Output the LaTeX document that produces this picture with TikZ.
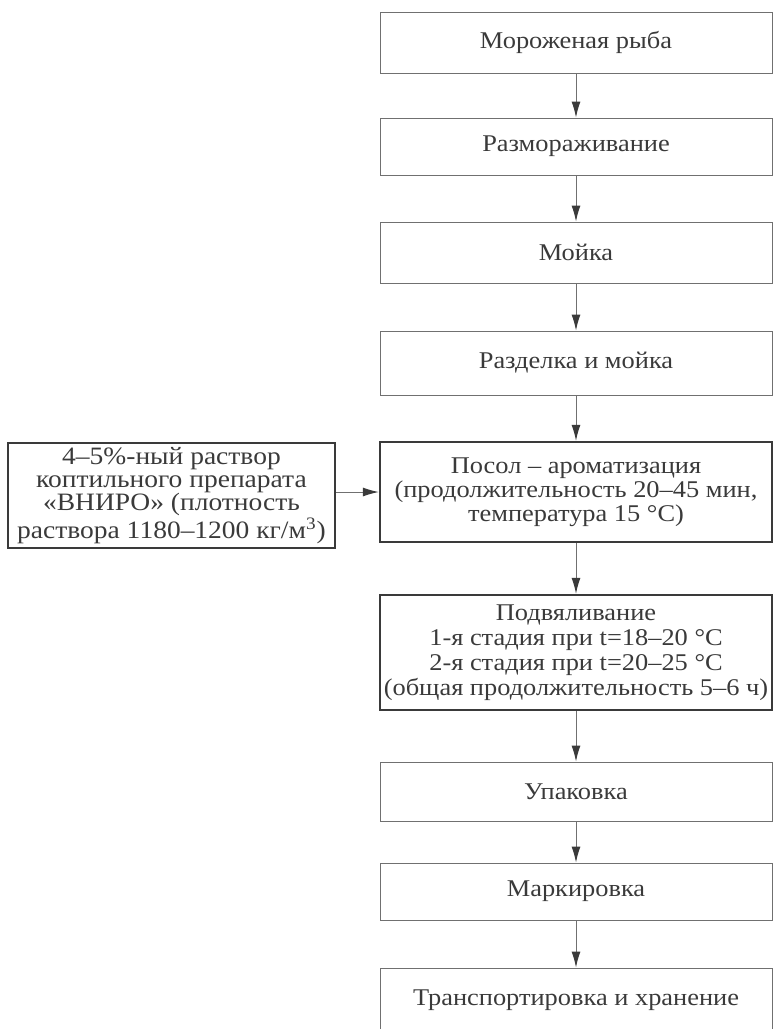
\documentclass[tikz,border=0pt]{standalone}
\usepackage{fontspec}
\setmainfont{Liberation Serif}
\newfontfamily\boxfont{Liberation Serif}[FakeStretch=1.1]
\usetikzlibrary{arrows.meta}

\definecolor{inkgray}{HTML}{3A3A3A}
\definecolor{linegray}{HTML}{707070}

\begin{document}
\begin{tikzpicture}[x=0.5pt,y=-0.5pt,
  box/.style={draw=linegray,line width=0.5pt,minimum width=196pt,
    text=inkgray,align=center,inner sep=2pt,
    font=\boxfont\fontsize{12}{12}\selectfont},
  thickbox/.style={box,draw=inkgray,line width=1.2pt},
  flow/.style={-{Latex[length=8pt,width=4.5pt,color=inkgray]},
    draw=linegray,line width=0.5pt}]
\clip (0,0) rectangle (774,1029);

% main line of the process
\node[box,minimum height=30.5pt] (moroz) at (576,42.5) {Мороженая рыба};
\node[box,minimum height=28.5pt] (razmor) at (576,146.5) {Размораживание};
\node[box,minimum height=30.5pt] (moika) at (576,252.5) {Мойка};
\node[box,minimum height=32pt] (razdel) at (576,363) {Разделка и мойка};
\node[thickbox,minimum height=50pt] (posol) at (576,492)
  {Посол – ароматизация\\(продолжительность 20–45 мин,\\температура 15 °C)};
\node[thickbox,minimum height=57.5pt,font=\boxfont\fontsize{12}{12.5}\selectfont]
  (podvyal) at (576,652.5)
  {Подвяливание\\1-я стадия при t=18–20 °C\\2-я стадия при t=20–25 °C\\(общая продолжительность 5–6 ч)};
\node[box,minimum height=29.5pt] (upak) at (576,791.5) {Упаковка};
\node[box,minimum height=28.5pt] (mark) at (576,891.5) {Маркировка};
\node[box,minimum height=32pt] (transp) at (576,1000) {Транспортировка и хранение};

% smoking solution fed into salting
\node[thickbox,minimum width=163.5pt,minimum height=52.5pt,
  font=\boxfont\fontsize{12.5}{11.4}\selectfont] (rastvor) at (171.5,495.5)
  {4–5\%-ный раствор\\коптильного препарата\\«ВНИРО» (плотность\\раствора 1180–1200 кг/м\textsuperscript{3})};

\draw[flow] (moroz) -- (razmor);
\draw[flow] (razmor) -- (moika);
\draw[flow] (moika) -- (razdel);
\draw[flow] (razdel) -- (posol);
\draw[flow] (posol) -- (podvyal);
\draw[flow] (podvyal) -- (upak);
\draw[flow] (upak) -- (mark);
\draw[flow] (mark) -- (transp);
\draw[flow] (rastvor.east |- posol.west) -- (posol.west);
\end{tikzpicture}
\end{document}
